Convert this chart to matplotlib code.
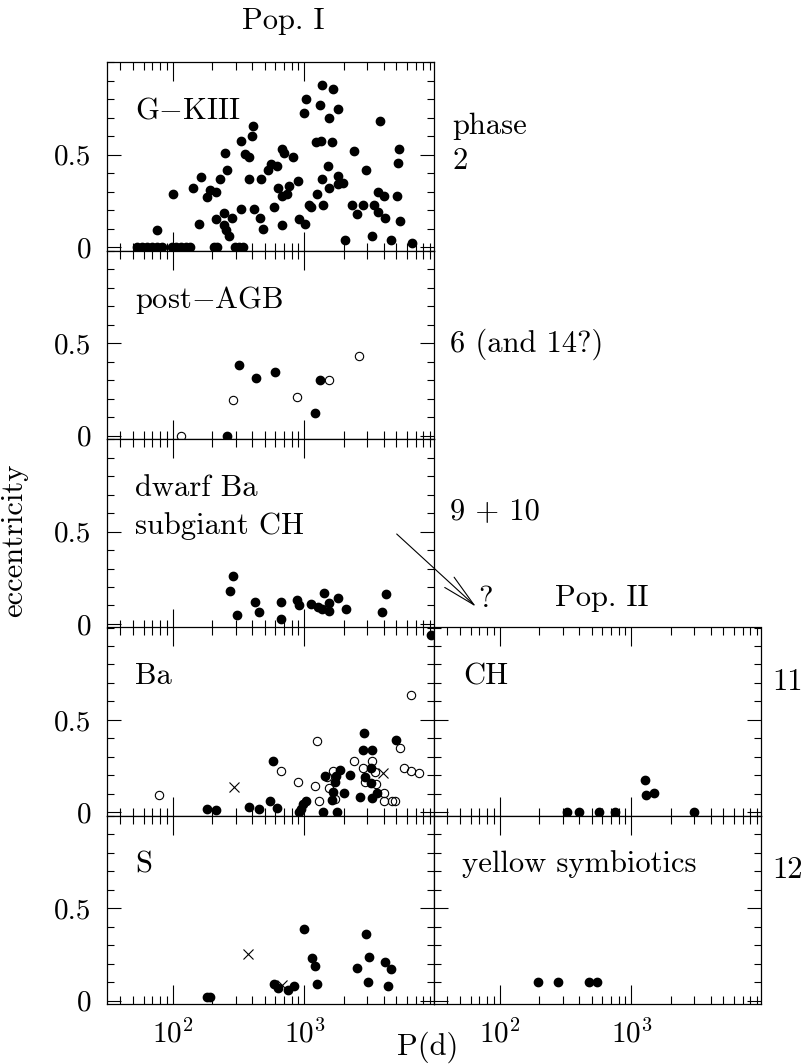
import numpy as np
import matplotlib
matplotlib.use("Agg")
import matplotlib.pyplot as plt
from matplotlib.ticker import LogLocator, MultipleLocator, NullFormatter

plt.rcParams['font.family'] = ['cmr10', 'DejaVu Serif']
plt.rcParams['mathtext.fontset'] = 'cm'
plt.rcParams['axes.formatter.use_mathtext'] = True

# ---- data: orbital period P (days) and eccentricity e ----
gk_P = [53, 58, 64, 69, 76, 83, 98, 106, 115, 126, 134, 204, 216, 297, 321, 344,
        76, 100, 142, 157, 163, 181, 192, 213, 212, 229, 247, 245, 243, 254, 265, 260,
        282, 330, 330, 354, 382, 376, 403, 410, 417, 460, 466, 488, 533, 555, 616, 589,
        627, 673, 705, 673, 673, 735, 765, 815, 890, 916, 1012, 1023, 1000, 1085, 1122,
        1241, 1227, 1339, 1316, 1355, 1355, 1394, 1521, 1530, 1538, 1613, 1660, 1790,
        1811, 1811, 1953, 2036, 2286, 2382, 2494, 2805, 2937, 3244, 3403, 3648, 3608,
        3758, 4055, 4103, 4552, 5026, 5172, 5268, 5333, 6531]
gk_e = [0, 0, 0, 0, 0, 0, 0, 0, 0, 0, 0, 0, 0, 0, 0, 0,
        0.093, 0.288, 0.318, 0.128, 0.377, 0.27, 0.31, 0.30, 0.151, 0.368, 0.507, 0.187,
        0.119, 0.093, 0.06, 0.418, 0.158, 0.577, 0.208, 0.502, 0.488, 0.368, 0.6, 0.658,
        0.208, 0.158, 0.368, 0.101, 0.418, 0.448, 0.44, 0.217, 0.32, 0.53, 0.51, 0.276,
        0.119, 0.285, 0.329, 0.49, 0.36, 0.151, 0.128, 0.804, 0.728, 0.226, 0.217, 0.288,
        0.568, 0.573, 0.769, 0.875, 0.368, 0.226, 0.44, 0.318, 0.698, 0.568, 0.858, 0.386,
        0.747, 0.342, 0.347, 0.039, 0.226, 0.52, 0.178, 0.226, 0.418, 0.06, 0.226, 0.30,
        0.19, 0.683, 0.279, 0.158, 0.039, 0.279, 0.457, 0.53, 0.14, 0.021]

pagb_P = [319, 430, 602, 1306, 1205, 257]
pagb_e = [0.38, 0.31, 0.342, 0.30, 0.121, 0.0]
pagb_open_P = [115, 289, 875, 1538, 2618]
pagb_open_e = [0.0, 0.193, 0.21, 0.30, 0.43]

dwarf_P = [289, 272, 306, 422, 455, 665, 665, 875, 912, 1117, 1277, 1355, 1410, 1530,
           1538, 1790, 2070, 3864, 4147]
dwarf_e = [0.257, 0.18, 0.05, 0.12, 0.065, 0.12, 0.027, 0.131, 0.10, 0.11, 0.092, 0.083,
           0.167, 0.113, 0.072, 0.14, 0.083, 0.063, 0.164]

ba_P = [574, 181, 213, 376, 455, 548, 623, 912, 944, 983, 1023, 1394, 1762, 1435, 1613,
        1660, 1710, 1729, 1866, 2014, 2225, 2648, 2858, 2805, 3244, 3206, 2890, 3206, 3244,
        3540, 4966, 9160]
ba_e = [0.278, 0.018, 0.014, 0.028, 0.016, 0.064, 0.023, 0.004, 0.021, 0.044, 0.06, 0.0,
        0.0, 0.199, 0.066, 0.11, 0.163, 0.199, 0.229, 0.103, 0.2, 0.082, 0.427, 0.34, 0.34,
        0.239, 0.19, 0.16, 0.08, 0.103, 0.39, 0.961]
ba_open_P = [79, 1256, 665, 890, 1205, 1285, 1479, 1538, 1660, 1718, 2382, 2805, 2890,
             3244, 3459, 3499, 4055, 4055, 4603, 4882, 5333, 5715, 6457, 7465, 6500]
ba_open_e = [0.096, 0.388, 0.222, 0.163, 0.142, 0.062, 0.19, 0.133, 0.222, 0.074, 0.278,
             0.239, 0.163, 0.278, 0.22, 0.151, 0.105, 0.064, 0.062, 0.062, 0.349, 0.239,
             0.222, 0.211, 0.637]
ba_x_P = [294, 3936]
ba_x_e = [0.14, 0.213]

s_P = [183, 192, 582, 635, 756, 835, 994, 1137, 1205, 1241, 2494, 2937, 3119, 3062,
       4103, 4552, 4345]
s_e = [0.018, 0.022, 0.092, 0.07, 0.058, 0.081, 0.388, 0.233, 0.19, 0.09, 0.18, 0.359,
       0.238, 0.099, 0.209, 0.17, 0.079]
s_x_P = [372, 673]
s_x_e = [0.251, 0.085]

ch_P = [326, 402, 567, 747, 1271, 1285, 1472, 2965]
ch_e = [0, 0, 0, 0, 0.177, 0.093, 0.104, 0]

symb_P = [196, 277, 473, 545]
symb_e = [0.1, 0.1, 0.1, 0.1]

W, H = 811, 1064
fig = plt.figure(figsize=(W / 100, H / 100), dpi=100)

top0 = 62.3
ph = 188.4
colx = [107, 434]
cw = 327


def make_ax(col, row, bottom_labels=False, left_labels=False):
    y1 = top0 + (row + 1) * ph
    ax = fig.add_axes([colx[col] / W, 1 - y1 / H, cw / W, ph / H])
    ax.set_xscale('log')
    ax.set_xlim(31.6, 9650)
    ax.set_ylim(-0.019, 1.0)
    ax.xaxis.set_major_locator(LogLocator(base=10, numticks=10))
    ax.xaxis.set_minor_locator(LogLocator(base=10, subs=np.arange(2, 10), numticks=20))
    ax.xaxis.set_minor_formatter(NullFormatter())
    ax.set_yticks([0, 0.5], ['0', '0.5'])
    ax.yaxis.set_minor_locator(MultipleLocator(0.1))
    ax.tick_params(which='both', direction='in', top=True, right=True,
                   labelbottom=bottom_labels, labelleft=left_labels, width=0.8)
    ax.tick_params(axis='x', which='major', length=13.7, pad=11, labelsize=21)
    ax.tick_params(axis='x', which='minor', length=5.5)
    ax.tick_params(axis='y', which='major', length=10, pad=11, labelsize=21)
    ax.tick_params(axis='y', which='minor', length=4.7)
    for sp in ax.spines.values():
        sp.set_linewidth(0.9)
    return ax


def dots(ax, P, e):
    ax.plot(P, e, 'o', color='black', ms=6, clip_on=False)


def rings(ax, P, e):
    ax.plot(P, e, 'o', mfc='none', mec='black', ms=6, mew=0.8, clip_on=False)


def crosses(ax, P, e):
    ax.plot(P, e, 'x', color='black', ms=7, mew=0.8, clip_on=False)


lab = dict(fontsize=22, va='baseline', ha='left')

ax1 = make_ax(0, 0, left_labels=True)
dots(ax1, gk_P, gk_e)
ax1.text(0.086, 0.70, 'G$-$KIII', transform=ax1.transAxes, **lab)

ax2 = make_ax(0, 1, left_labels=True)
dots(ax2, pagb_P, pagb_e)
rings(ax2, pagb_open_P, pagb_open_e)
ax2.text(0.086, 0.694, 'post$-$AGB', transform=ax2.transAxes, **lab)

ax3 = make_ax(0, 2, left_labels=True)
dots(ax3, dwarf_P, dwarf_e)
ax3.text(0.086, 0.70, 'dwarf Ba', transform=ax3.transAxes, **lab)
ax3.text(0.086, 0.496, 'subgiant CH', transform=ax3.transAxes, **lab)

ax4 = make_ax(0, 3, left_labels=True)
dots(ax4, ba_P, ba_e)
rings(ax4, ba_open_P, ba_open_e)
crosses(ax4, ba_x_P, ba_x_e)
ax4.text(0.086, 0.70, 'Ba', transform=ax4.transAxes, **lab)

ax5 = make_ax(0, 4, bottom_labels=True, left_labels=True)
dots(ax5, s_P, s_e)
crosses(ax5, s_x_P, s_x_e)
ax5.text(0.086, 0.70, 'S', transform=ax5.transAxes, **lab)

ax6 = make_ax(1, 3)
dots(ax6, ch_P, ch_e)
ax6.text(0.088, 0.70, 'CH', transform=ax6.transAxes, **lab)

ax7 = make_ax(1, 4, bottom_labels=True)
dots(ax7, symb_P, symb_e)
ax7.text(0.087, 0.70, 'yellow symbiotics', transform=ax7.transAxes, **lab)


def ftext(x, y, s, ha='left'):
    fig.text(x / W, 1 - y / H, s, fontsize=22, va='baseline', ha=ha)


ftext(242, 29, 'Pop. I')
ftext(452, 134, 'phase')
ftext(452, 169, '2')
ftext(450, 352, '6 (and 14?)')
ftext(450, 519, '9 + 10')
ftext(478, 607, '?')
ftext(555, 606, 'Pop. II')
ftext(772, 690, '11')
ftext(772, 878, '12')
ftext(428, 1055, 'P(d)', ha='center')
fig.text(14 / W, 1 - 540 / H, 'eccentricity', fontsize=22, rotation=90,
         ha='center', va='center')

fig.add_artist(matplotlib.patches.FancyArrowPatch(
    (396.7, H - 534), (476, H - 606.7), transform=None,
    arrowstyle='->,head_length=2.4,head_width=0.5', mutation_scale=10,
    lw=0.8, color='black', shrinkA=0, shrinkB=0))

fig.savefig('out.png', dpi=100)
